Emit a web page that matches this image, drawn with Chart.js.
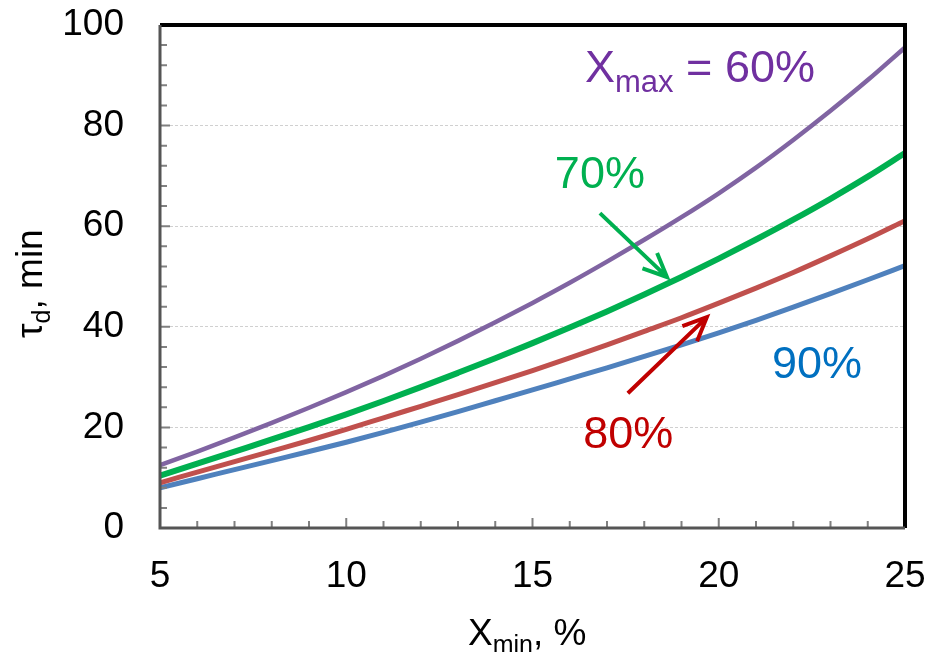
<!DOCTYPE html>
<html>
<head>
<meta charset="utf-8">
<script src="https://cdn.jsdelivr.net/npm/chart.js@4.4.1/dist/chart.umd.min.js"></script>
<style>
  html, body { margin: 0; padding: 0; background: #fff; }
  #wrap { width: 929px; height: 652px; }
</style>
</head>
<body>
<div id="wrap"><canvas id="tauChart" width="929" height="652"></canvas></div>
<script>
// X_min, % (abscissa)
const xMin = [5, 6, 7, 8, 9, 10, 11, 12, 13, 14, 15, 16, 17, 18, 19, 20, 21, 22, 23, 24, 25];

// tau_d, min for each X_max
const tau60 = [12.5, 15.2, 18.0, 20.9, 23.9, 27.0, 30.25, 33.65, 37.2, 40.9, 44.75, 48.75, 52.95, 57.3, 61.8, 66.55, 71.65, 77.15, 82.95, 89.05, 95.55];
const tau70 = [10.4, 12.8, 15.2, 17.6, 20.05, 22.6, 25.25, 28.0, 30.85, 33.75, 36.75, 39.85, 43.05, 46.4, 49.9, 53.55, 57.35, 61.3, 65.45, 69.85, 74.55];
const tau80 = [9.0, 11.1, 13.2, 15.3, 17.4, 19.6, 21.9, 24.2, 26.5, 28.9, 31.3, 33.8, 36.4, 39.1, 41.8, 44.7, 47.7, 50.8, 54.1, 57.5, 61.1];
const tau90 = [8.0, 9.8, 11.6, 13.4, 15.2, 17.05, 19.0, 21.05, 23.15, 25.3, 27.45, 29.65, 31.85, 34.1, 36.4, 38.8, 41.3, 43.9, 46.6, 49.35, 52.15];

const xTicks = [5, 10, 15, 20, 25];
const yTicks = [0, 20, 40, 60, 80, 100];

const FONT = 'Liberation Sans, Arial, sans-serif';

function pts(ys) {
    return xMin.map((x, i) => ({ x: x, y: ys[i] }));
}

function line(label, ys, color, width) {
    return {
        label: label,
        data: pts(ys),
        borderColor: color,
        borderWidth: width,
        pointRadius: 0,
        fill: false,
        cubicInterpolationMode: 'monotone'
    };
}

// text with a subscript part, e.g. X_max
function subText(ctx, x, y, main, sub, rest, size, color) {
    ctx.save();
    ctx.fillStyle = color;
    ctx.textAlign = 'left';
    ctx.textBaseline = 'alphabetic';
    ctx.font = size + 'px ' + FONT;
    ctx.fillText(main, x, y);
    let cx = x + ctx.measureText(main).width;
    ctx.font = Math.round(size * 0.68) + 'px ' + FONT;
    ctx.fillText(sub, cx, y + size * 0.22);
    cx += ctx.measureText(sub).width;
    ctx.font = size + 'px ' + FONT;
    ctx.fillText(rest, cx, y);
    ctx.restore();
}

function arrow(ctx, x0, y0, x1, y1, color) {
    const ang = Math.atan2(y1 - y0, x1 - x0);
    const head = 26, spread = 0.42;
    ctx.save();
    ctx.strokeStyle = color;
    ctx.lineWidth = 4;
    ctx.lineCap = 'butt';
    ctx.beginPath();
    ctx.moveTo(x0, y0);
    ctx.lineTo(x1 - 2 * Math.cos(ang), y1 - 2 * Math.sin(ang));
    ctx.moveTo(x1 - head * Math.cos(ang - spread), y1 - head * Math.sin(ang - spread));
    ctx.lineTo(x1, y1);
    ctx.lineTo(x1 - head * Math.cos(ang + spread), y1 - head * Math.sin(ang + spread));
    ctx.stroke();
    ctx.restore();
}

// frame, inside minor ticks, curve labels, arrows, axis titles
const decorations = {
    id: 'decorations',
    afterDraw(chart) {
        const ctx = chart.ctx;
        const a = chart.chartArea;
        const xs = chart.scales.x, ys = chart.scales.y;

        ctx.save();
        // minor ticks
        ctx.strokeStyle = '#808080';
        ctx.lineWidth = 2;
        ctx.beginPath();
        for (let v = 6; v < 25; v++) {
            const px = xs.getPixelForValue(v);
            ctx.moveTo(px, a.bottom);
            ctx.lineTo(px, a.bottom - (v % 5 === 0 ? 10 : 7));
        }
        for (let v = 4; v < 100; v += 4) {
            const py = ys.getPixelForValue(v);
            ctx.moveTo(a.left, py);
            ctx.lineTo(a.left + (v % 20 === 0 ? 10 : 7), py);
        }
        ctx.stroke();

        // frame
        ctx.lineWidth = 4;
        ctx.strokeStyle = '#000';
        ctx.beginPath();
        ctx.moveTo(a.left, a.top);
        ctx.lineTo(a.right, a.top);
        ctx.lineTo(a.right, a.bottom);
        ctx.stroke();
        ctx.strokeStyle = '#555';
        ctx.lineWidth = 3;
        ctx.beginPath();
        ctx.moveTo(a.left, a.top);
        ctx.lineTo(a.left, a.bottom);
        ctx.lineTo(a.right, a.bottom);
        ctx.stroke();
        ctx.restore();

        const P = (x, y) => [xs.getPixelForValue(x), ys.getPixelForValue(y)];

        // curve labels
        let p = P(16.41, 88.7);
        subText(ctx, p[0], p[1], 'X', 'max', ' = 60%', 45, '#7030A0');
        ctx.save();
        ctx.font = '45px ' + FONT;
        ctx.textBaseline = 'alphabetic';
        ctx.fillStyle = '#00B050';
        p = P(15.6, 67.6); ctx.fillText('70%', p[0], p[1]);
        ctx.fillStyle = '#C00000';
        p = P(16.36, 15.9); ctx.fillText('80%', p[0], p[1]);
        ctx.fillStyle = '#0070C0';
        p = P(21.43, 29.8); ctx.fillText('90%', p[0], p[1]);
        ctx.restore();

        // arrows
        let t = P(16.81, 62.6), h = P(18.61, 49.9);
        arrow(ctx, t[0], t[1], h[0], h[1], '#00B050');
        t = P(17.56, 26.8); h = P(19.68, 41.9);
        arrow(ctx, t[0], t[1], h[0], h[1], '#C00000');

        // axis titles
        subText(ctx, 468, 645, 'X', 'min', ', %', 37, '#000');
        ctx.save();
        ctx.translate(42, 338);
        ctx.rotate(-Math.PI / 2);
        subText(ctx, 0, 0, '\u03C4', 'd', ', min', 37, '#000');
        ctx.restore();
    }
};

new Chart(document.getElementById('tauChart'), {
    type: 'line',
    data: {
        datasets: [
            line('X_max = 60%', tau60, '#8064A2', 4.5),
            line('70%', tau70, '#00B050', 6),
            line('80%', tau80, '#C0504D', 5),
            line('90%', tau90, '#4F81BD', 5)
        ]
    },
    options: {
        responsive: false,
        animation: false,
        devicePixelRatio: 1,
        layout: { padding: { top: 25, right: 24, left: 0, bottom: 0 } },
        plugins: {
            legend: { display: false },
            tooltip: { enabled: false }
        },
        scales: {
            x: {
                type: 'linear',
                min: 5,
                max: 25,
                afterBuildTicks: s => { s.ticks = xTicks.map(v => ({ value: v })); },
                afterFit: s => { s.height = 124; s.paddingLeft = 0; s.paddingRight = 0; },
                ticks: { color: '#000', font: { family: FONT, size: 37 }, padding: 19, maxRotation: 0 },
                grid: { display: false },
                border: { display: false }
            },
            y: {
                min: 0,
                max: 100,
                afterBuildTicks: s => { s.ticks = yTicks.map(v => ({ value: v })); },
                afterFit: s => { s.width = 160; s.paddingTop = 0; s.paddingBottom = 0; },
                ticks: { color: '#000', font: { family: FONT, size: 37 }, padding: 36 },
                grid: {
                    drawTicks: false,
                    color: c => (c.tick.value === 0 || c.tick.value === 100) ? 'rgba(0,0,0,0)' : '#d0d0d0',
                    lineWidth: 1
                },
                border: { display: false, dash: [3, 2] }
            }
        }
    },
    plugins: [decorations]
});
</script>
</body>
</html>
